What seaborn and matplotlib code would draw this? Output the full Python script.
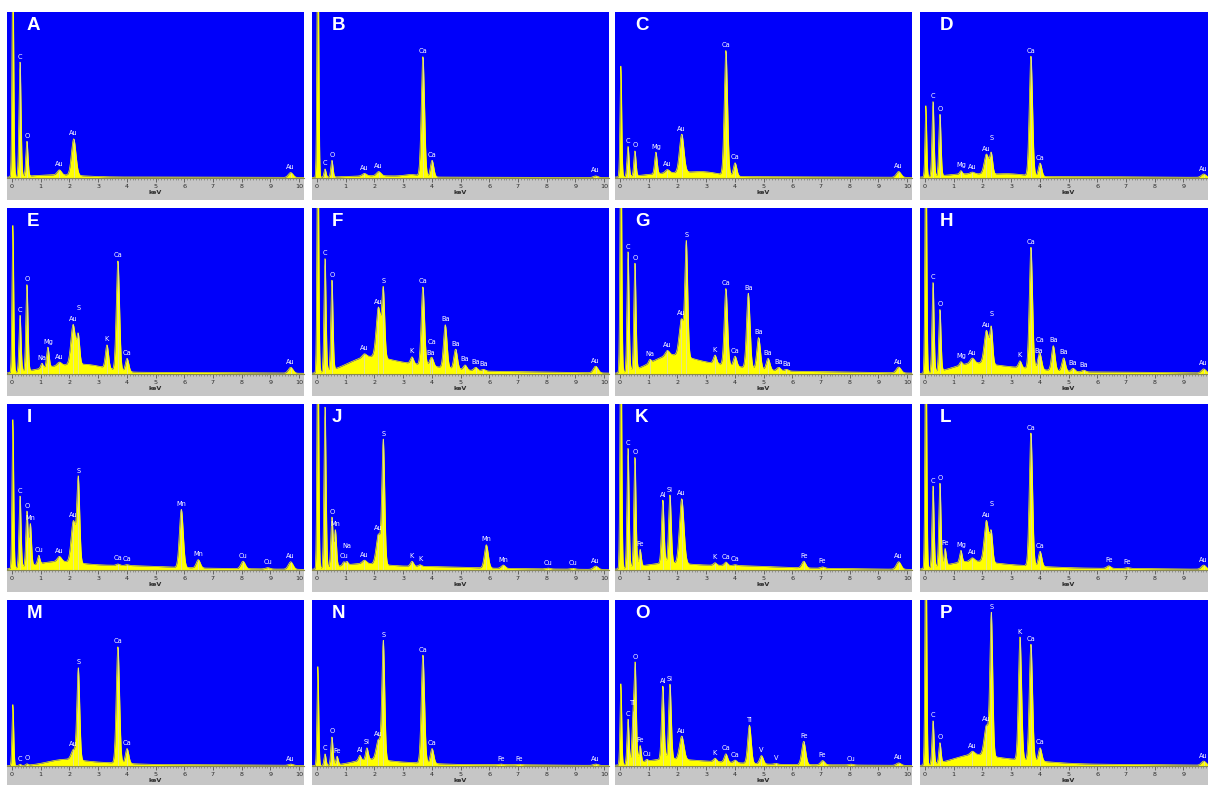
import numpy as np
import seaborn as sns
import matplotlib.pyplot as plt

# EDS spectra, 16 panels (A-P)
# peaks: (label, energy keV, relative height of blue area)
# bg: broad continuum humps (centre keV, height, spread keV)

A_peaks = [("", 0.03, 1.3), ("C", 0.28, 0.69), ("O", 0.52, 0.21), ("Au", 1.65, 0.03),
           ("Au", 2.15, 0.22), ("Au", 9.71, 0.03)]
A_bg = [(1.5, 0.015, 0.9), (5.0, 0.006, 4.0)]

B_peaks = [("", 0.03, 1.6), ("C", 0.28, 0.05), ("O", 0.52, 0.10), ("Au", 1.65, 0.015),
           ("Au", 2.15, 0.025), ("Ca", 3.69, 0.72), ("Ca", 4.01, 0.10), ("Au", 9.71, 0.01)]
B_bg = [(2.0, 0.01, 1.0), (3.3, 0.012, 0.25), (5.0, 0.005, 4.0)]

C_peaks = [("", 0.03, 0.67), ("C", 0.28, 0.18), ("O", 0.52, 0.15), ("Mg", 1.25, 0.13),
           ("Au", 1.65, 0.02), ("Au", 2.15, 0.23), ("Ca", 3.69, 0.75), ("Ca", 4.01, 0.08),
           ("Au", 9.71, 0.035)]
C_bg = [(1.8, 0.025, 0.9), (3.0, 0.02, 0.5), (5.0, 0.008, 4.0)]

D_peaks = [("", 0.03, 0.43), ("C", 0.28, 0.45), ("O", 0.52, 0.37), ("Mg", 1.25, 0.02),
           ("Au", 1.65, 0.01), ("Au", 2.14, 0.12), ("S", 2.31, 0.12), ("Ca", 3.69, 0.72),
           ("Ca", 4.01, 0.08), ("Au", 9.71, 0.02)]
D_bg = [(1.5, 0.02, 0.8), (3.0, 0.015, 0.5), (5.0, 0.008, 4.0)]

E_peaks = [("", 0.03, 0.89), ("C", 0.28, 0.34), ("O", 0.52, 0.52), ("Na", 1.04, 0.03),
           ("Mg", 1.25, 0.12), ("Au", 1.65, 0.02), ("Au", 2.13, 0.24), ("S", 2.31, 0.17),
           ("K", 3.31, 0.14), ("Ca", 3.69, 0.66), ("Ca", 4.01, 0.08), ("Au", 9.71, 0.035)]
E_bg = [(1.7, 0.04, 0.8), (2.8, 0.03, 0.6), (5.0, 0.01, 4.0)]

F_peaks = [("", 0.03, 1.6), ("C", 0.28, 0.68), ("O", 0.52, 0.54), ("Au", 1.65, 0.02),
           ("Au", 2.14, 0.30), ("S", 2.31, 0.40), ("K", 3.31, 0.04), ("Ca", 3.69, 0.47),
           ("Ba", 3.95, 0.02), ("Ca", 4.01, 0.04), ("Ba", 4.47, 0.26), ("Ba", 4.83, 0.12),
           ("Ba", 5.16, 0.03), ("Ba", 5.53, 0.02), ("Ba", 5.80, 0.01), ("Au", 9.71, 0.04)]
F_bg = [(1.7, 0.07, 0.7), (3.0, 0.05, 1.2), (6.0, 0.015, 3.0)]

G_peaks = [("", 0.03, 1.6), ("C", 0.28, 0.72), ("O", 0.52, 0.64), ("Na", 1.04, 0.02),
           ("Au", 1.65, 0.03), ("Au", 2.14, 0.22), ("S", 2.31, 0.68), ("K", 3.31, 0.05),
           ("Ca", 3.69, 0.46), ("Ca", 4.01, 0.06), ("Ba", 4.47, 0.45), ("Ba", 4.83, 0.19),
           ("Ba", 5.16, 0.07), ("Ba", 5.53, 0.02), ("Ba", 5.80, 0.01), ("Au", 9.71, 0.035)]
G_bg = [(1.7, 0.08, 0.7), (3.0, 0.05, 1.2), (6.0, 0.015, 3.0)]

H_peaks = [("", 0.03, 1.6), ("C", 0.28, 0.54), ("O", 0.52, 0.37), ("Mg", 1.25, 0.02),
           ("Au", 1.65, 0.03), ("Au", 2.14, 0.20), ("S", 2.31, 0.21), ("K", 3.31, 0.04),
           ("Ca", 3.69, 0.73), ("Ba", 3.95, 0.03), ("Ca", 4.01, 0.08), ("Ba", 4.47, 0.15),
           ("Ba", 4.83, 0.08), ("Ba", 5.16, 0.02), ("Ba", 5.53, 0.01), ("Au", 9.71, 0.025)]
H_bg = [(1.6, 0.05, 0.7), (3.0, 0.03, 1.0), (6.0, 0.012, 3.0)]

I_peaks = [("", 0.03, 0.90), ("C", 0.28, 0.43), ("O", 0.52, 0.33), ("Mn", 0.64, 0.25),
           ("Cu", 0.93, 0.05), ("Au", 1.65, 0.03), ("Au", 2.14, 0.25), ("S", 2.31, 0.50),
           ("Ca", 3.69, 0.008), ("Ca", 4.01, 0.005), ("Mn", 5.90, 0.35), ("Mn", 6.49, 0.05),
           ("Cu", 8.05, 0.045), ("Cu", 8.91, 0.008), ("Au", 9.71, 0.045)]
I_bg = [(1.5, 0.04, 0.8), (3.5, 0.02, 1.5), (6.0, 0.01, 3.0)]

J_peaks = [("", 0.03, 1.6), ("C", 0.28, 0.97), ("O", 0.52, 0.30), ("Mn", 0.64, 0.22),
           ("Cu", 0.93, 0.02), ("Na", 1.04, 0.02), ("Au", 1.65, 0.02), ("Au", 2.14, 0.18),
           ("S", 2.31, 0.74), ("K", 3.31, 0.03), ("K", 3.59, 0.01), ("Mn", 5.90, 0.14),
           ("Mn", 6.49, 0.02), ("Cu", 8.05, 0.005), ("Cu", 8.91, 0.005), ("Au", 9.71, 0.02)]
J_bg = [(1.5, 0.03, 0.8), (3.5, 0.015, 1.5), (6.0, 0.008, 3.0)]

K_peaks = [("", 0.03, 1.6), ("C", 0.28, 0.72), ("O", 0.52, 0.66), ("Fe", 0.70, 0.10),
           ("Al", 1.49, 0.38), ("Si", 1.74, 0.41), ("Au", 2.15, 0.39), ("K", 3.31, 0.015),
           ("Ca", 3.69, 0.02), ("Ca", 4.01, 0.005), ("Fe", 6.40, 0.04), ("Fe", 7.06, 0.008),
           ("Au", 9.71, 0.045)]
K_bg = [(1.5, 0.03, 0.8), (3.5, 0.02, 1.5), (6.0, 0.01, 3.0)]

L_peaks = [("", 0.03, 1.6), ("C", 0.28, 0.49), ("O", 0.52, 0.50), ("Fe", 0.70, 0.10),
           ("Mg", 1.25, 0.07), ("Au", 1.65, 0.02), ("Au", 2.14, 0.25), ("S", 2.31, 0.17),
           ("Ca", 3.69, 0.80), ("Ca", 4.01, 0.09), ("Fe", 6.40, 0.015), ("Fe", 7.06, 0.005),
           ("Au", 9.71, 0.025)]
L_bg = [(1.5, 0.04, 0.8), (3.0, 0.02, 1.2), (6.0, 0.01, 3.0)]

M_peaks = [("", 0.03, 0.37), ("C", 0.28, 0.008), ("O", 0.52, 0.008), ("Au", 2.14, 0.06),
           ("S", 2.31, 0.55), ("Ca", 3.69, 0.70), ("Ca", 4.01, 0.09), ("Au", 9.71, 0.008)]
M_bg = [(1.8, 0.03, 0.6), (3.0, 0.015, 1.0), (6.0, 0.008, 3.0)]

N_peaks = [("", 0.03, 0.60), ("C", 0.28, 0.07), ("O", 0.52, 0.17), ("Fe", 0.70, 0.05),
           ("Al", 1.49, 0.03), ("Si", 1.74, 0.07), ("Au", 2.14, 0.12), ("S", 2.31, 0.71),
           ("Ca", 3.69, 0.65), ("Ca", 4.01, 0.09), ("Fe", 6.40, 0.004), ("Fe", 7.06, 0.003),
           ("Au", 9.71, 0.008)]
N_bg = [(1.8, 0.03, 0.6), (3.0, 0.015, 1.0), (6.0, 0.008, 3.0)]

O_peaks = [("", 0.03, 0.49), ("C", 0.28, 0.27), ("Ti", 0.45, 0.25), ("O", 0.53, 0.58),
           ("Fe", 0.70, 0.10), ("Cu", 0.93, 0.01), ("Al", 1.49, 0.44), ("Si", 1.74, 0.45),
           ("Au", 2.15, 0.14), ("K", 3.31, 0.02), ("Ca", 3.69, 0.05), ("Ca", 4.01, 0.015),
           ("Ti", 4.51, 0.23), ("V", 4.93, 0.05), ("V", 5.43, 0.005), ("Fe", 6.40, 0.14),
           ("Fe", 7.06, 0.025), ("Cu", 8.05, 0.005), ("Au", 9.71, 0.015)]
O_bg = [(1.5, 0.03, 0.8), (3.0, 0.02, 1.2), (6.0, 0.008, 3.0)]

P_peaks = [("", 0.03, 1.6), ("C", 0.28, 0.26), ("O", 0.52, 0.12), ("Au", 1.65, 0.02),
           ("Au", 2.14, 0.18), ("S", 2.31, 0.85), ("K", 3.31, 0.74), ("Ca", 3.69, 0.70),
           ("Ca", 4.01, 0.08), ("Au", 9.71, 0.025)]
P_bg = [(1.6, 0.05, 0.7), (3.0, 0.03, 1.2), (6.0, 0.01, 3.0)]

panel_letters = list("ABCDEFGHIJKLMNOP")
panel_peaks = [A_peaks, B_peaks, C_peaks, D_peaks, E_peaks, F_peaks, G_peaks, H_peaks,
               I_peaks, J_peaks, K_peaks, L_peaks, M_peaks, N_peaks, O_peaks, P_peaks]
panel_bg = [A_bg, B_bg, C_bg, D_bg, E_bg, F_bg, G_bg, H_bg,
            I_bg, J_bg, K_bg, L_bg, M_bg, N_bg, O_bg, P_bg]
kev_ticks = list(range(11))

BLUE = "#0000fa"
YELLOW = "#ffff00"
GREY = "#c6c6c6"

sns.set_style("white")
plt.rcParams["font.family"] = ["DejaVu Sans"]

W, H = 1208, 785
fig = plt.figure(figsize=(W / 100, H / 100), dpi=100)
fig.patch.set_facecolor("white")

col_left = [7, 312, 615, 920]
row_top = [12, 208, 404, 600]
pw, ph, strip = 297, 166, 22
px_per_kev = 28.7
xmin = -5 / px_per_kev
xmax = xmin + pw / px_per_kev

energy = np.linspace(xmin, xmax, 1600)


def fwhm(name, e):
    # detector resolution; zero-energy noise peak and unresolved Au M lines differ
    if not name:
        return 0.07
    w = np.sqrt(0.08 ** 2 + 0.0032 * e)
    if name == "Au" and e < 3:
        w *= 1.6
    return w


def spectrum(peaks, bg):
    y = np.zeros_like(energy)
    for c, h, s in bg:
        y += h * np.exp(-0.5 * ((energy - c) / s) ** 2)
    for name, e, h in peaks:
        sig = fwhm(name, e) / 2.355
        y += h * np.exp(-0.5 * ((energy - e) / sig) ** 2)
    return y


for i, letter in enumerate(panel_letters):
    r, c = divmod(i, 4)
    left, top = col_left[c], row_top[r]

    # grey strip under the spectrum
    sax = fig.add_axes([left / W, 1 - (top + ph + strip) / H, pw / W, strip / H], zorder=0)
    sax.set_facecolor(GREY)
    sax.set_xticks([])
    sax.set_yticks([])
    for sp in sax.spines.values():
        sp.set_visible(False)

    ax = fig.add_axes([left / W, 1 - (top + ph) / H, pw / W, ph / H], zorder=1)
    ax.set_facecolor(BLUE)
    y = spectrum(panel_peaks[i], panel_bg[i])
    ax.fill_between(energy, 0, y, color=YELLOW, lw=0)
    sns.lineplot(x=energy, y=y, ax=ax, color=YELLOW, lw=0.5,
                 estimator=None, errorbar=None, sort=False)
    ax.set_xlim(xmin, xmax)
    ax.set_ylim(0, 1.0)

    # element labels with thin marker lines
    placed = []
    for name, e, h in panel_peaks[i]:
        if not name:
            continue
        yv = float(np.interp(e, energy, y))
        ax.vlines(e, 0, min(yv, 0.98), color="#d9d9c8", lw=0.5, zorder=3)
        ly = yv + 0.015
        for _ in range(10):
            clash = [py for px, py in placed if abs(px - e) < 0.2 and abs(py - ly) < 0.065]
            if not clash:
                break
            ly = max(clash) + 0.065
        placed.append((e, ly))
        ax.text(e, ly, name, color="white", fontsize=4.8, ha="center", va="bottom", zorder=4)

    ax.text(20 / pw, 1 - 5 / ph, letter, transform=ax.transAxes, color="white",
            fontsize=13.5, fontweight="bold", family="Liberation Sans", ha="left", va="top")

    ax.set_xticks(kev_ticks)
    ax.set_xticks(np.arange(0, 10.01, 0.1), minor=True)
    ax.set_xticklabels([str(t) for t in kev_ticks])
    ax.set_yticks([])
    ax.tick_params(axis="x", which="major", direction="out", length=3, width=0.6,
                   color="#555555", labelsize=4.6, labelcolor="#2a2a2a", pad=1.5, bottom=True)
    ax.tick_params(axis="x", which="minor", direction="out", length=1.5, width=0.4,
                   color="#666666", bottom=True)
    ax.set_xlabel("keV", fontsize=4.6, color="#2a2a2a", labelpad=0.3, fontweight="bold")
    ax.set_ylabel("")
    for side in ["left", "top", "right"]:
        ax.spines[side].set_visible(False)
    ax.spines["bottom"].set_color("#8a8a50")
    ax.spines["bottom"].set_linewidth(0.8)

fig.savefig("out.png", dpi=100, facecolor="white")
